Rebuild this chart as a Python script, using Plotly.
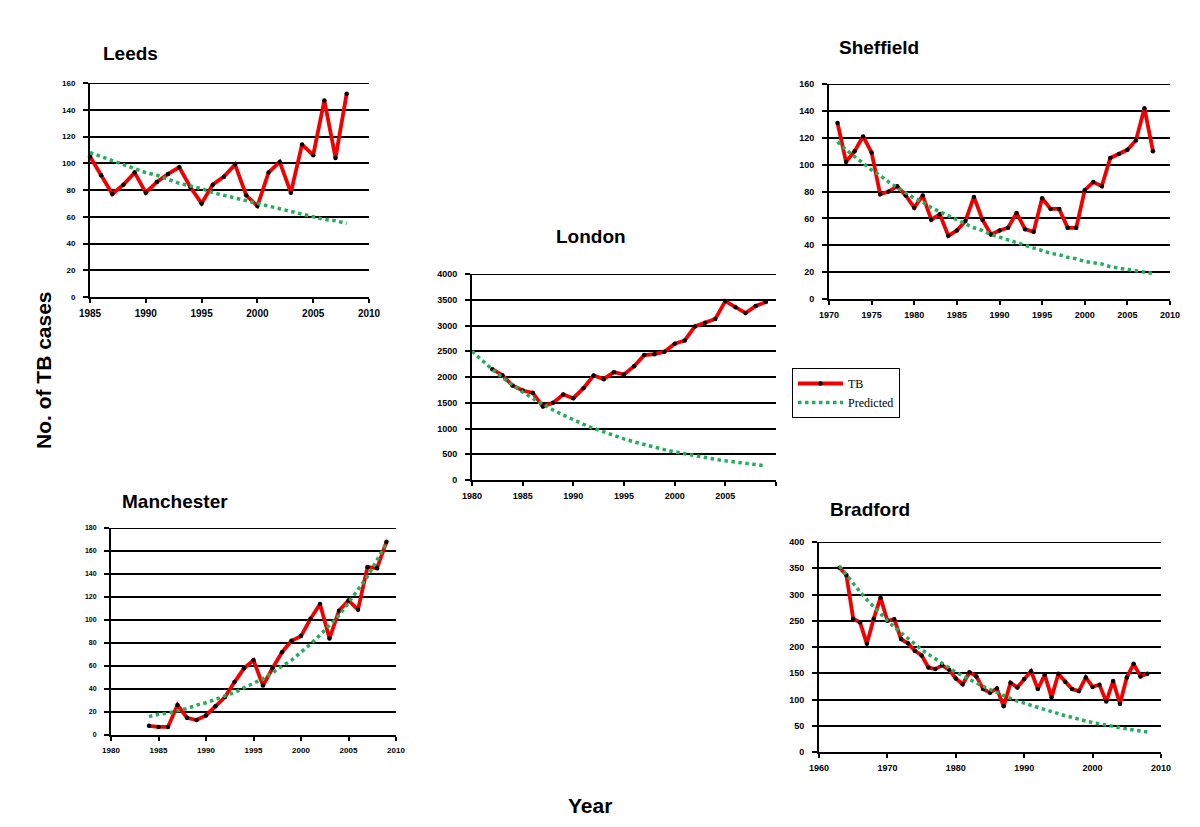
import plotly.graph_objects as go

# ---------------- data ----------------
leeds_years = list(range(1985, 2009))
leeds_tb = [105, 91, 77, 84, 93, 78, 86, 92, 97, 82, 70, 84, 90, 99, 76, 68,
            93, 101, 78, 114, 106, 147, 104, 152]
leeds_pred = [108, 105, 102, 99, 96, 93, 91, 88, 85, 83, 81, 78, 76, 74, 72, 70,
              68, 66, 64, 62, 60, 58, 57, 55]

sheffield_years = list(range(1971, 2009))
sheffield_tb = [131, 102, 110, 121, 109, 78, 80, 84, 77, 68, 77, 59, 63, 47, 51, 58,
                76, 59, 48, 51, 53, 64, 52, 50, 75, 67, 67, 53, 53, 81, 87, 84,
                105, 108, 111, 118, 142, 110]
sheffield_pred = [117, 111, 106, 101, 96, 92, 87, 83, 79, 75, 72, 68, 65, 62, 59, 56,
                  53, 51, 48, 46, 44, 42, 40, 38, 36, 34, 33, 31, 30, 28, 27, 26,
                  24, 23, 22, 21, 20, 19]

london_years = list(range(1982, 2010))
london_tb = [2152, 2036, 1835, 1737, 1692, 1426, 1498, 1660, 1588, 1783, 2029, 1958,
             2094, 2049, 2211, 2425, 2444, 2489, 2645, 2710, 2982, 3053, 3125, 3475,
             3352, 3241, 3378, 3456]
london_pred_years = list(range(1980, 2010))
london_pred = [2500, 2317, 2147, 1990, 1844, 1709, 1583, 1467, 1360, 1260, 1168, 1082,
               1003, 929, 861, 798, 740, 685, 635, 589, 546, 506, 469, 434, 402, 373,
               346, 320, 297, 275]

manchester_years = list(range(1984, 2010))
manchester_tb = [8, 7, 7, 26, 15, 13, 17, 25, 33, 46, 58, 65, 43, 58, 72, 82, 86, 101,
                 114, 84, 108, 117, 109, 146, 145, 168]
manchester_pred = [16, 18, 19, 21, 23, 26, 28, 31, 34, 37, 41, 45, 49, 54, 60, 65, 72,
                   79, 87, 95, 104, 115, 126, 138, 152, 167]

bradford_years = list(range(1963, 2009))
bradford_tb = [351, 337, 254, 247, 206, 254, 294, 250, 253, 215, 207, 193, 184, 161,
               158, 165, 157, 140, 129, 152, 144, 120, 113, 121, 87, 132, 123, 139,
               154, 120, 147, 104, 149, 134, 120, 116, 142, 124, 128, 96, 135, 92,
               142, 168, 144, 149]
bradford_pred = [354, 337, 321, 305, 290, 276, 263, 250, 238, 227, 216, 205, 195, 186,
                 177, 168, 160, 152, 145, 138, 131, 125, 119, 113, 108, 102, 97, 93,
                 88, 84, 80, 76, 72, 69, 66, 62, 59, 56, 54, 51, 49, 46, 44, 42, 40, 38]

# ---------------- layout geometry ----------------
# The page body keeps the browser's 8px margin, so the figure is sized to fit
# exactly inside a 1200x827 window; page-pixel positions are converted below.
OFF = 8
FW, FH = 1200 - 2 * OFF, 827 - 2 * OFF


def dx(px):
    return (px - OFF) / FW


def dy(py):
    return 1 - (py - OFF) / FH


panels = [
    dict(name="Leeds", box=(90, 83, 369, 297), xr=[1985, 2010], xd=5, yr=[0, 160], yd=20,
         tpos=(101, 54), tanchor="left", yfs=8, xfs=10,
         x=leeds_years, tb=leeds_tb, px=leeds_years, pred=leeds_pred),
    dict(name="Sheffield", box=(829, 84, 1170, 299), xr=[1970, 2010], xd=5, yr=[0, 160], yd=20,
         tpos=(837, 48), tanchor="left", yfs=9, xfs=9,
         x=sheffield_years, tb=sheffield_tb, px=sheffield_years, pred=sheffield_pred),
    dict(name="London", box=(472, 274, 776, 480), xr=[1980, 2010], xd=5, yr=[0, 4000], yd=500,
         tpos=(591, 236), tanchor="center", yfs=9, xfs=9,
         x=london_years, tb=london_tb, px=london_pred_years, pred=london_pred,
         hide_last=True),
    dict(name="Manchester", box=(111, 528, 396, 735), xr=[1980, 2010], xd=5, yr=[0, 180], yd=20,
         tpos=(120, 501), tanchor="left", yfs=7, xfs=8,
         x=manchester_years, tb=manchester_tb, px=manchester_years, pred=manchester_pred),
    dict(name="Bradford", box=(819, 542, 1161, 752), xr=[1960, 2010], xd=10, yr=[0, 400], yd=50,
         tpos=(828, 510), tanchor="left", yfs=9, xfs=9,
         x=bradford_years, tb=bradford_tb, px=bradford_years, pred=bradford_pred),
]

RED = "rgb(240,0,0)"
GREEN = "rgb(36,174,92)"
SANS = "Liberation Sans, Arial, sans-serif"


def tickfont(size):
    return dict(family=SANS, size=size, color="black", weight="bold")


fig = go.Figure()
layout = dict(
    width=FW, height=FH, autosize=False, margin=dict(l=0, r=0, t=0, b=0),
    paper_bgcolor="white", plot_bgcolor="white",
    showlegend=True,
    legend=dict(x=dx(792), y=dy(368), xanchor="left", yanchor="top",
                bordercolor="black", borderwidth=1, bgcolor="white",
                font=dict(family="Liberation Serif, Times New Roman, serif", size=12,
                          color="black"),
                tracegroupgap=0, itemwidth=45),
    annotations=[],
    shapes=[],
)

for i, p in enumerate(panels, start=1):
    l, t, r, b = p["box"]
    xa = "x" if i == 1 else f"x{i}"
    ya = "y" if i == 1 else f"y{i}"
    xkey = "xaxis" if i == 1 else f"xaxis{i}"
    ykey = "yaxis" if i == 1 else f"yaxis{i}"
    xticks = list(range(p["xr"][0], p["xr"][1] + 1, p["xd"]))
    xtext = [str(v) for v in xticks]
    if p.get("hide_last"):
        xtext[-1] = ""
    layout[xkey] = dict(domain=[dx(l), dx(r)], anchor=ya, range=p["xr"],
                        tickmode="array", tickvals=xticks, ticktext=xtext,
                        showgrid=False, zeroline=False, showline=True,
                        linecolor="black", linewidth=2, ticks="outside", ticklen=4,
                        tickcolor="black", tickwidth=1.5, tickfont=tickfont(p["xfs"]),
                        ticklabelstandoff=2, fixedrange=True, automargin=False)
    layout[ykey] = dict(domain=[dy(b), dy(t)], anchor=xa, range=p["yr"],
                        tickmode="linear", dtick=p["yd"], tick0=0, showgrid=True,
                        gridcolor="black", gridwidth=2, zeroline=False, showline=True,
                        linecolor="black", linewidth=2, ticks="outside", ticklen=5,
                        tickcolor="black", tickwidth=1.5, tickfont=tickfont(p["yfs"]),
                        ticklabelstandoff=6, fixedrange=True, automargin=False)
    # top gridline (plotly omits gridlines sitting on the range edge)
    layout["shapes"].append(dict(
        type="line", xref=f"{xa} domain", yref=ya, x0=0, x1=1,
        y0=p["yr"][1], y1=p["yr"][1], line=dict(color="black", width=2), layer="below"))
    fig.add_trace(go.Scatter(
        x=p["x"], y=p["tb"], xaxis=xa, yaxis=ya, mode="lines+markers", name="TB",
        line=dict(color=RED, width=3.8), marker=dict(color="black", size=4.5),
        showlegend=(i == 1), cliponaxis=False))
    fig.add_trace(go.Scatter(
        x=p["px"], y=p["pred"], xaxis=xa, yaxis=ya, mode="lines", name="Predicted",
        line=dict(color=GREEN, width=3.5, dash="3.5px,3.5px"),
        showlegend=(i == 1), cliponaxis=False))
    tx, ty = p["tpos"]
    layout["annotations"].append(dict(
        text=p["name"], x=dx(tx), y=dy(ty), xref="paper", yref="paper",
        xanchor=p["tanchor"], yanchor="middle", showarrow=False,
        font=dict(family=SANS, size=19, color="black", weight="bold")))

layout["annotations"].append(dict(
    text="No. of TB cases", x=dx(43), y=dy(370), xref="paper", yref="paper",
    xanchor="center", yanchor="middle", textangle=-90, showarrow=False,
    font=dict(family=SANS, size=21, color="black", weight="bold")))
layout["annotations"].append(dict(
    text="Year", x=dx(590), y=dy(805), xref="paper", yref="paper",
    xanchor="center", yanchor="middle", showarrow=False,
    font=dict(family=SANS, size=21, color="black", weight="bold")))

fig.update_layout(**layout)
fig.write_html("out.html", config={"displayModeBar": False, "responsive": False})
